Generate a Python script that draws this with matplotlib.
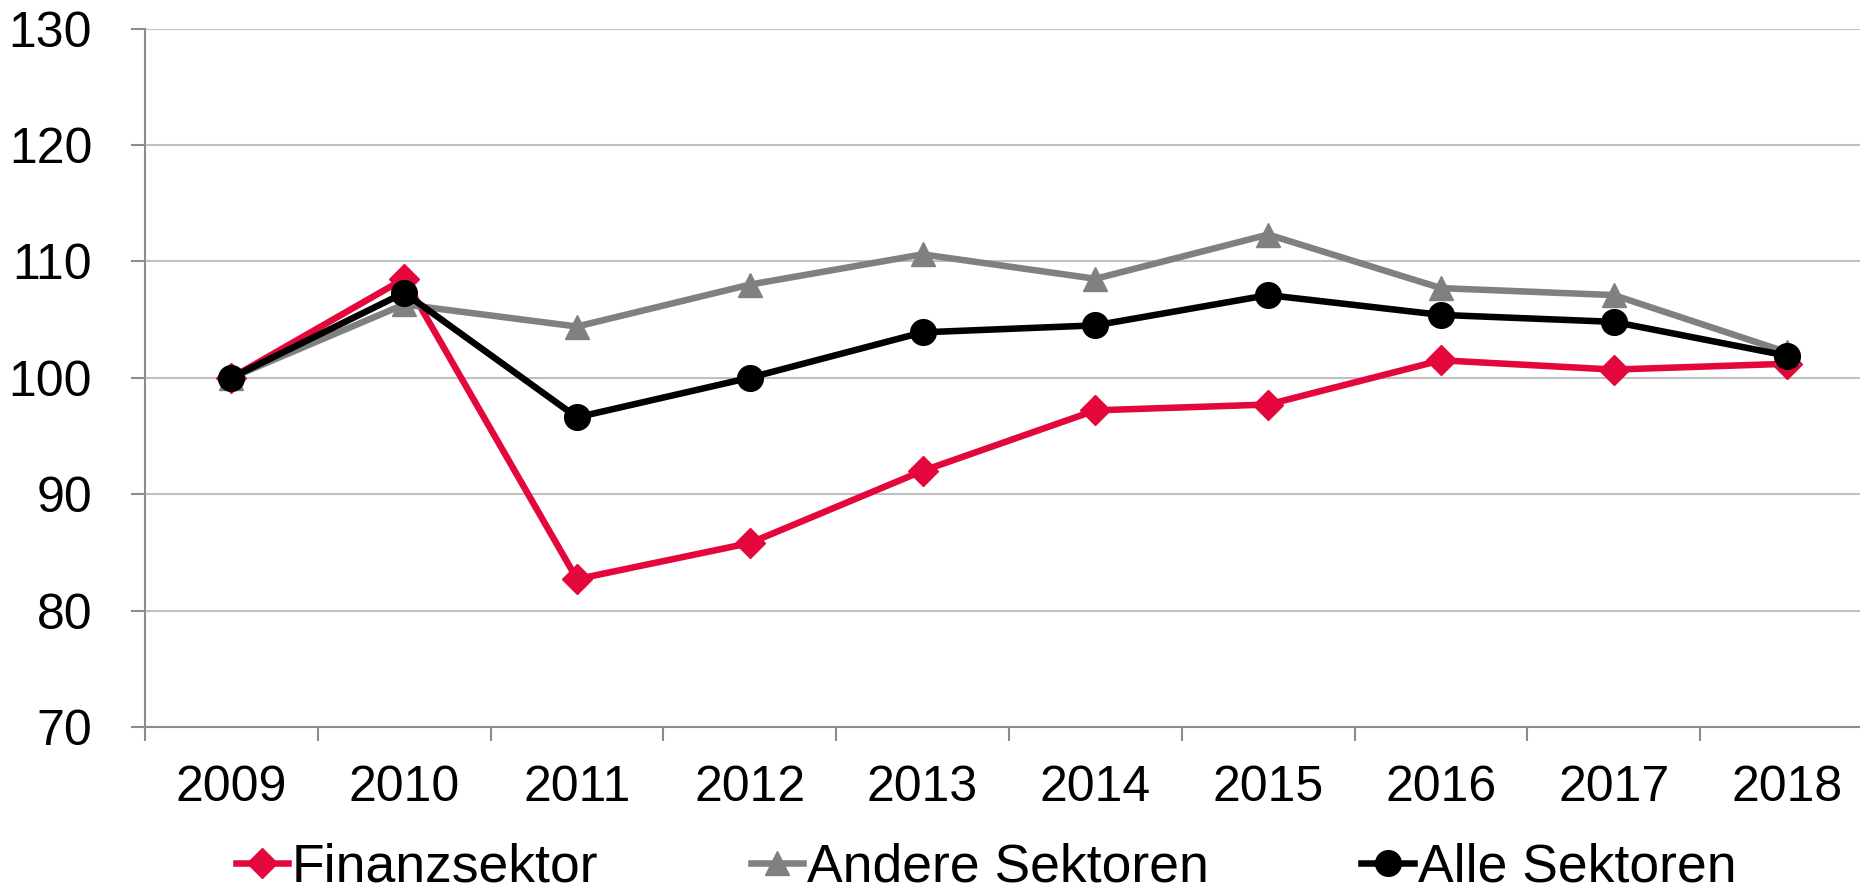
import matplotlib
matplotlib.use("Agg")
import matplotlib.pyplot as plt

plt.rcParams['font.family'] = ['Liberation Sans', 'DejaVu Sans']

years = ["2009", "2010", "2011", "2012", "2013", "2014", "2015", "2016", "2017", "2018"]
finanzsektor = [100.0, 108.5, 82.7, 85.8, 92.0, 97.2, 97.7, 101.5, 100.7, 101.2]
andere_sektoren = [100.0, 106.3, 104.4, 108.0, 110.6, 108.5, 112.3, 107.7, 107.1, 102.2]
alle_sektoren = [100.0, 107.3, 96.6, 100.0, 103.9, 104.5, 107.1, 105.4, 104.8, 101.9]
y_ticks = [70, 80, 90, 100, 110, 120, 130]

RED = "#E4073C"
GRAY = "#808080"
BLACK = "#000000"
GRID = "#C0C0C0"
AXIS = "#8C8C8C"

fig = plt.figure(figsize=(18.6, 8.9), dpi=100)
ax = fig.add_axes([145 / 1860, 163 / 890, 1728 / 1860, 698.5 / 890])

x = list(range(len(years)))
lw = 4.7
ax.plot(x, finanzsektor, color=RED, lw=lw, marker="D", markersize=15,
        label="Finanzsektor", solid_joinstyle="round", clip_on=False)
ax.plot(x, andere_sektoren, color=GRAY, lw=lw, marker="^", markersize=17.5,
        label="Andere Sektoren", solid_joinstyle="round", clip_on=False)
ax.plot(x, alle_sektoren, color=BLACK, lw=lw, marker="o", markersize=18.5,
        label="Alle Sektoren", solid_joinstyle="round", clip_on=False)

ax.set_xlim(-0.5, len(years) - 0.5)
ax.set_ylim(70, 130)
ax.set_yticks(y_ticks)
ax.set_yticklabels([str(v) for v in y_ticks])
ax.set_xticks(x)
ax.set_xticklabels(years)
ax.set_xticks([i - 0.5 for i in range(len(years) + 1)], minor=True)

ax.grid(axis="y", color=GRID, lw=1.5)
ax.set_axisbelow(True)
for s in ["top", "right"]:
    ax.spines[s].set_visible(False)
for s in ["left", "bottom"]:
    ax.spines[s].set_color(AXIS)
    ax.spines[s].set_linewidth(1.5)

ax.tick_params(axis="y", which="major", length=10, width=1.5, color=AXIS,
               labelsize=36, pad=28, colors=AXIS, labelcolor="black")
ax.tick_params(axis="x", which="major", length=0, labelsize=36, pad=27.5,
               labelcolor="black")
ax.tick_params(axis="x", which="minor", length=10, width=1.5, color=AXIS)

leg = fig.legend(loc="center", bbox_to_anchor=(986 / 1860, 1 - 868 / 890), ncol=3,
                 frameon=False, fontsize=38.5, handlelength=0.98, handletextpad=0.07,
                 columnspacing=2.85, borderaxespad=0, borderpad=0)

fig.savefig("out.png", dpi=100)
